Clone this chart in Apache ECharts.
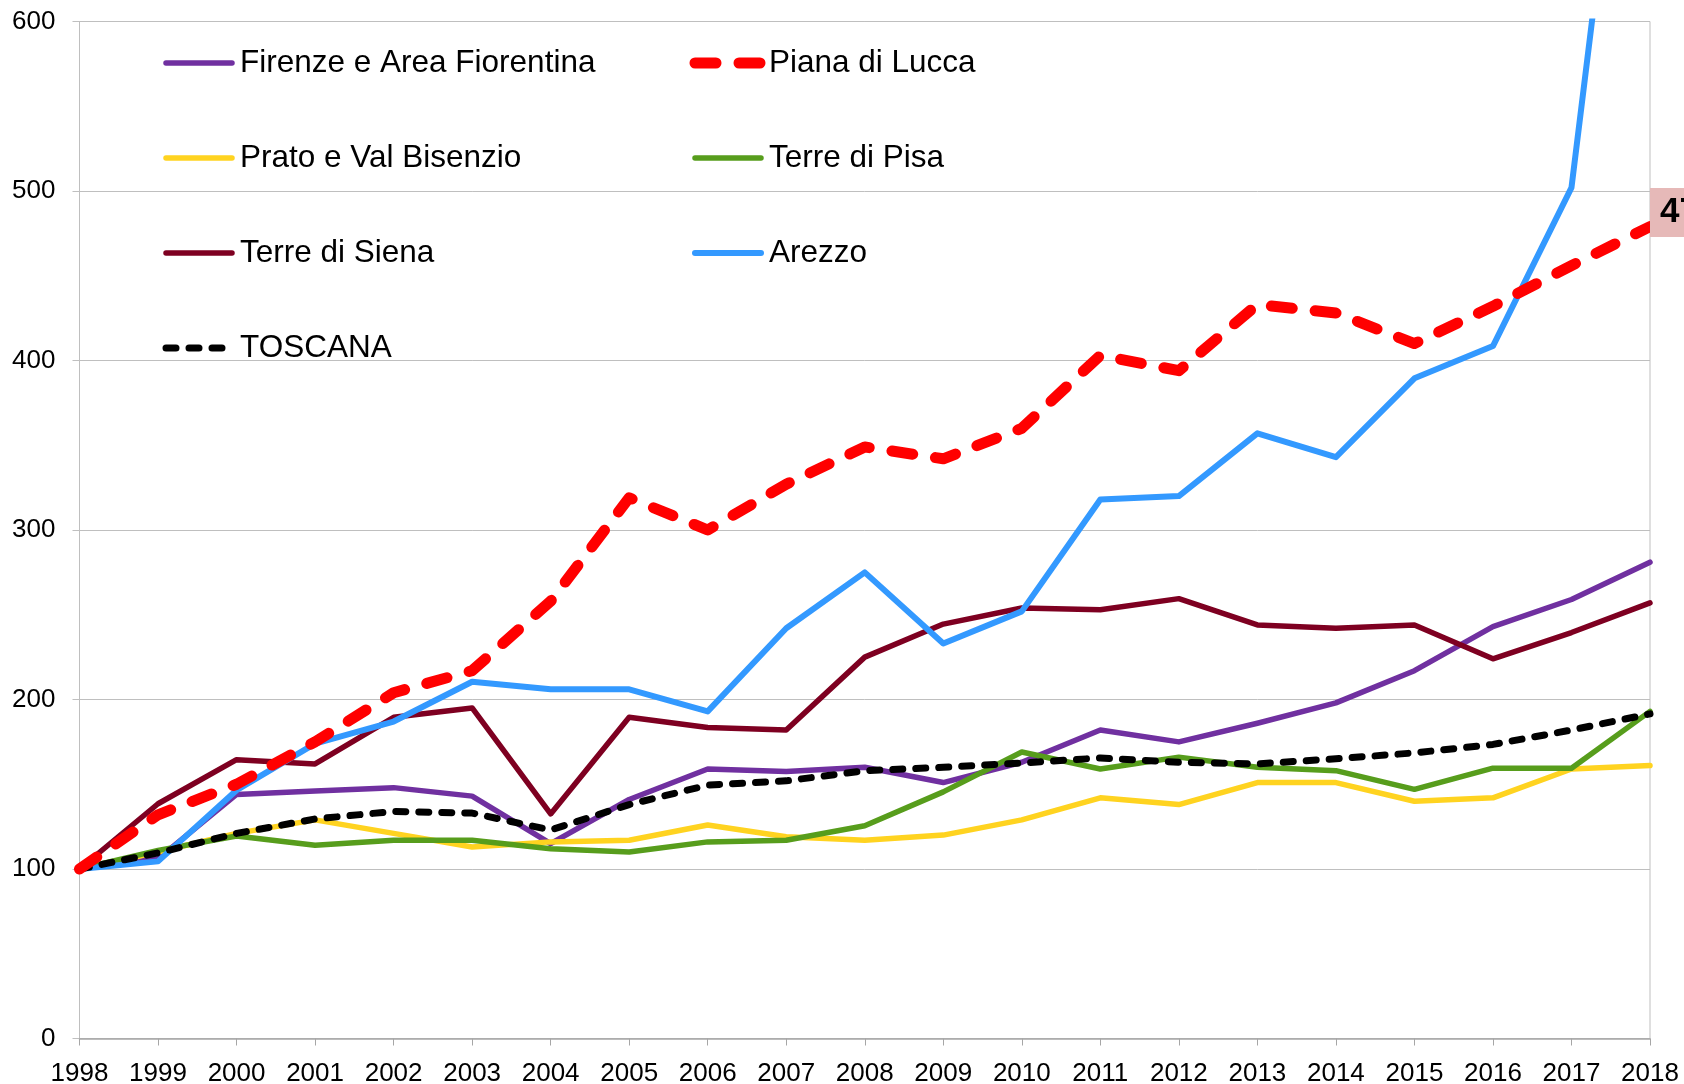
<!DOCTYPE html>
<html lang="it">
<head>
<meta charset="UTF-8">
<title>Indici 1998-2018</title>
<script src="https://cdn.jsdelivr.net/npm/echarts@6/dist/echarts.min.js"></script>
</head>
<body style="margin:0;background:#fff">
<div id="container" style="width:1684px;height:1084px"></div>
<script type="text/javascript">
var years = ['1998', '1999', '2000', '2001', '2002', '2003', '2004', '2005', '2006', '2007', '2008',
    '2009', '2010', '2011', '2012', '2013', '2014', '2015', '2016', '2017', '2018'];

var firenze = [100, 106, 144, 146, 148, 143, 115, 141, 159, 157.5, 160, 151, 163, 182, 175, 186, 198, 217, 243, 259, 281];
var lucca   = [100, 132, 150, 175, 204, 217, 258, 319, 300, 327, 349, 342, 360, 403, 394, 433, 428, 410, 432, 456, 479];
var prato   = [100, 110, 121, 129, 121, 113, 116, 117, 126, 119, 117, 120, 129, 142, 138, 151, 151, 140, 142, 159, 161];
var pisa    = [100, 111, 119.5, 114, 117, 117, 112, 110, 116, 117, 125.5, 145.5, 169, 159, 166, 160, 158, 147, 159.5, 159.5, 193];
var siena   = [100, 138.5, 164.5, 162, 189.5, 195, 132.5, 189.5, 183.5, 182, 225, 244.5, 254, 253, 259.5, 244, 242, 244, 224, 239.5, 257];
var arezzo  = [100, 104.5, 146.5, 174, 187, 210.5, 206, 206, 193, 242, 275, 233, 252, 318, 320, 357, 343, 389.5, 408.5, 502, 878];
var toscana = [100, 109.5, 121, 129.5, 134, 133, 123, 138, 149.5, 152, 158, 160, 162.5, 165.5, 163, 162, 165, 168.5, 173.5, 182, 191.5];

var lastLabel = '479';

var dom = document.getElementById('container');
var myChart = echarts.init(dom, null, { renderer: 'canvas' });

var font = 'Liberation Sans, Arial, sans-serif';

function plain(name, data, color, width) {
    return {
        name: name, type: 'line', data: data, symbol: 'none', color: color,
        lineStyle: { color: color, width: width, join: 'round', cap: 'round' }
    };
}

var legendBase = {
    orient: 'vertical', top: 42, itemWidth: 66, itemHeight: 14, itemGap: 63,
    itemStyle: { opacity: 0 },
    lineStyle: { width: 'inherit', type: 'inherit', cap: 'round' },
    textStyle: { fontFamily: font, fontSize: 31.5, color: '#000', lineHeight: 31, padding: [0, 0, 0, 3] }
};

var option = {
    animation: false,
    backgroundColor: '#fff',
    grid: {
        left: 79.5, right: 34, top: 21.5, bottom: 45.5, outerBoundsMode: 'none',
        show: true, borderColor: '#bfbfbf', borderWidth: 1
    },
    legend: [
        Object.assign({}, legendBase, {
            left: 157.5,
            data: ['Firenze e Area Fiorentina', 'Prato e Val Bisenzio', 'Terre di Siena', 'TOSCANA']
        }),
        Object.assign({}, legendBase, {
            left: 684.5,
            data: ['Piana di Lucca', 'Terre di Pisa', 'Arezzo']
        })
    ],
    xAxis: {
        type: 'category', boundaryGap: false, data: years,
        axisLine: { lineStyle: { color: '#a6a6a6', width: 1.5 } },
        axisTick: { show: true, alignWithLabel: true, length: 7, lineStyle: { color: '#a6a6a6' } },
        axisLabel: { color: '#000', fontFamily: font, fontSize: 26, margin: 22 },
        splitLine: { show: false }
    },
    yAxis: {
        type: 'value', min: 0, max: 600, interval: 100,
        axisLine: { show: true, lineStyle: { color: '#bfbfbf' } },
        axisTick: { show: true, length: 7, lineStyle: { color: '#bfbfbf' } },
        axisLabel: { color: '#000', fontFamily: font, fontSize: 26, margin: 24 },
        splitLine: { show: true, lineStyle: { color: '#bfbfbf', width: 1 } }
    },
    series: [
        plain('Firenze e Area Fiorentina', firenze, '#7030a0', 5.5),
        {
            name: 'Piana di Lucca', type: 'line', data: lucca, symbol: 'none', color: '#ff0000', z: 5,
            lineStyle: { color: '#ff0000', width: 11, type: [21, 23], cap: 'round', join: 'round' },
            endLabel: {
                show: true, distance: 0, offset: [0, -14],
                formatter: lastLabel, color: '#000', fontFamily: font, fontWeight: 'bold', fontSize: 35,
                backgroundColor: '#e6b9b8', padding: [7, 10, 7, 10]
            }
        },
        plain('Prato e Val Bisenzio', prato, '#ffd320', 5.5),
        plain('Terre di Pisa', pisa, '#579d1c', 5.5),
        plain('Terre di Siena', siena, '#7e0021', 5.5),
        plain('Arezzo', arezzo, '#3399ff', 6),
        {
            name: 'TOSCANA', type: 'line', data: toscana, symbol: 'none', color: '#000', z: 4,
            lineStyle: { color: '#000', width: 7, type: [10, 13], cap: 'round', join: 'round' }
        }
    ]
};

myChart.setOption(option);
window.addEventListener('resize', myChart.resize);
</script>
</body>
</html>
